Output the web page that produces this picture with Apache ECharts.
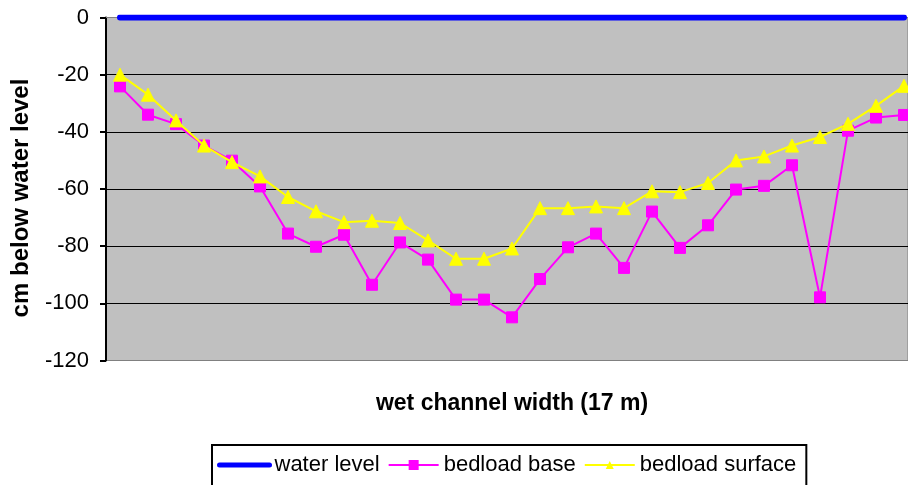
<!DOCTYPE html>
<html>
<head>
<meta charset="utf-8">
<script src="https://cdn.jsdelivr.net/npm/echarts@6/dist/echarts.min.js"></script>
<style>
html,body{margin:0;padding:0;background:#fff;}
#c{width:908px;height:485px;}
</style>
</head>
<body>
<div id="c"></div>
<script>
var categories = ['1','2','3','4','5','6','7','8','9','10','11','12','13','14','15','16','17','18','19','20','21','22','23','24','25','26','27','28','29'];
var waterLevel = [0,0,0,0,0,0,0,0,0,0,0,0,0,0,0,0,0,0,0,0,0,0,0,0,0,0,0,0,0];
var bedloadBase = [-24.1,-34.0,-37.3,-44.8,-50.1,-59.1,-75.6,-80.2,-76.0,-93.5,-78.7,-84.7,-98.7,-98.7,-104.9,-91.5,-80.4,-75.6,-87.6,-67.9,-80.6,-72.7,-60.2,-58.9,-51.7,-97.9,-39.6,-35.0,-34.1];
var bedloadSurface = [-20.0,-27.0,-36.0,-44.8,-50.6,-55.6,-62.8,-67.8,-71.6,-71.1,-71.9,-78.0,-84.4,-84.4,-80.8,-66.7,-66.7,-66.1,-66.7,-60.8,-61.1,-57.9,-50.0,-48.6,-44.8,-41.8,-37.2,-30.9,-23.9];
var yTicks = [-120,-100,-80,-60,-40,-20,0];

function pairs(vals){ return vals.map(function(v,i){ return [i+1, v]; }); }

var FONT = '"Liberation Sans", Arial, sans-serif';
var chart = echarts.init(document.getElementById('c'), null, {renderer:'canvas'});
// plot area is 28px per category; its right part is cut by the image edge
var plotW = 802, catW = 28;
chart.setOption({
  animation: false,
  grid: {
    left: 106, top: 17.5, width: plotW, height: 343,
    show: true, backgroundColor: '#C0C0C0', borderColor: '#808080', borderWidth: 1,
    containLabel: false
  },
  xAxis: {
    type: 'value', min: 0.5, max: 0.5 + plotW / catW,
    axisLine: {show: true, lineStyle: {color: '#808080', width: 1}},
    axisTick: {show: false}, axisLabel: {show: false}, splitLine: {show: false},
    name: 'wet channel width (17 m)', nameLocation: 'middle', nameGap: 32,
    nameTextStyle: {fontFamily: FONT, fontSize: 23, fontWeight: 'bold', color: '#000', padding: [0, 0, 0, 10]}
  },
  yAxis: {
    type: 'value', min: -120, max: 0, interval: 20,
    axisLine: {show: true, lineStyle: {color: '#000', width: 2}},
    axisTick: {show: true, length: 6, inside: false, lineStyle: {color: '#000', width: 2}},
    axisLabel: {fontFamily: FONT, fontSize: 22, color: '#000', margin: 17,
      formatter: function(v){ return yTicks.indexOf(v) >= 0 ? String(v) : ''; }},
    splitLine: {show: true, lineStyle: {color: ['#808080','#000','#000','#000','#000','#000','#808080'], width: 1}},
    name: 'cm below water level', nameLocation: 'middle', nameGap: 73, nameRotate: 90,
    nameTextStyle: {fontFamily: FONT, fontSize: 24, fontWeight: 'bold', color: '#000', padding: [0, 18, 0, 0]}
  },
  legend: {
    left: 212, top: 445,
    padding: [9, 10, 20, 5],
    borderColor: '#000', borderWidth: 2, backgroundColor: '#fff',
    itemWidth: 50, itemHeight: 10, itemGap: 8,
    textStyle: {fontFamily: FONT, fontSize: 22, color: '#000'},
    data: [
      {name: 'water level', itemStyle: {opacity: 0}, lineStyle: {width: 5, color: '#0000FF'}},
      {name: 'bedload base'},
      {name: 'bedload surface'}
    ]
  },
  series: [
    {
      name: 'water level', type: 'line', data: pairs(waterLevel),
      symbol: 'none', lineStyle: {color: '#0000FF', width: 6, cap: 'round'},
      itemStyle: {color: '#0000FF'}, z: 5
    },
    {
      name: 'bedload base', type: 'line', data: pairs(bedloadBase),
      symbol: 'rect', symbolSize: 11,
      lineStyle: {color: '#FF00FF', width: 2},
      itemStyle: {color: '#FF00FF', borderColor: '#FF00FF', borderWidth: 1}, z: 3
    },
    {
      name: 'bedload surface', type: 'line', data: pairs(bedloadSurface),
      symbol: 'triangle', symbolSize: 13,
      lineStyle: {color: '#FFFF00', width: 2},
      itemStyle: {color: '#FFFF00', borderColor: '#FFFF00'}, z: 4
    }
  ]
});
</script>
</body>
</html>
